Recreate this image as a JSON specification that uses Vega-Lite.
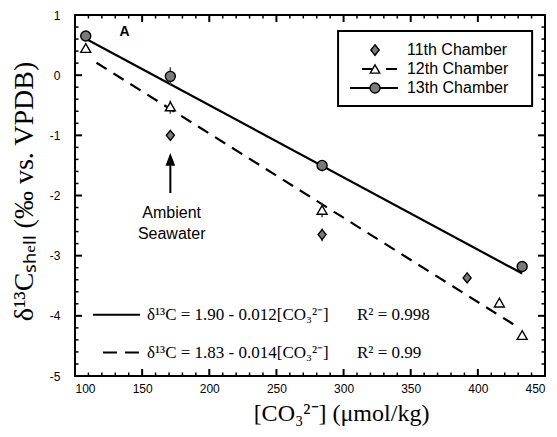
{
  "$schema": "https://vega.github.io/schema/vega-lite/v6.json",
  "width": 470,
  "height": 361,
  "autosize": {"type": "none"},
  "padding": {"left": 75, "top": 15, "right": 12, "bottom": 61},
  "background": "white",
  "data": {"values": [{}]},
  "config": {
    "view": {"stroke": "black", "strokeWidth": 2},
    "font": "Liberation Sans",
    "axis": {
      "grid": false,
      "domain": false,
      "ticks": false,
      "labelColor": "black",
      "labelFont": "Liberation Sans",
      "labelFontSize": 12,
      "titleColor": "black"
    }
  },
  "datasets": {
    "shells": [
      {"chamber": "12th Chamber", "co3": 108, "d13c": 0.45},
      {"chamber": "12th Chamber", "co3": 171, "d13c": -0.52},
      {"chamber": "12th Chamber", "co3": 284, "d13c": -2.24},
      {"chamber": "12th Chamber", "co3": 416, "d13c": -3.78},
      {"chamber": "12th Chamber", "co3": 433, "d13c": -4.32},
      {"chamber": "11th Chamber", "co3": 171, "d13c": -1.0},
      {"chamber": "11th Chamber", "co3": 284, "d13c": -2.65},
      {"chamber": "11th Chamber", "co3": 392, "d13c": -3.37},
      {"chamber": "13th Chamber", "co3": 108, "d13c": 0.65},
      {"chamber": "13th Chamber", "co3": 171, "d13c": -0.02},
      {"chamber": "13th Chamber", "co3": 284, "d13c": -1.5},
      {"chamber": "13th Chamber", "co3": 433, "d13c": -3.18}
    ],
    "spread": [
      {"co3": 171, "lo": -0.17, "hi": 0.13},
      {"co3": 171, "lo": -0.64, "hi": -0.42},
      {"co3": 284, "lo": -2.36, "hi": -2.12},
      {"co3": 284, "lo": -2.76, "hi": -2.55},
      {"co3": 284, "lo": -1.6, "hi": -1.42}
    ],
    "fits": [
      {"fit": "13th", "co3": 108, "d13c": 0.604},
      {"fit": "13th", "co3": 433, "d13c": -3.296},
      {"fit": "12th", "co3": 116, "d13c": 0.206},
      {"fit": "12th", "co3": 431, "d13c": -4.204}
    ],
    "xMajor": [{"v": 100}, {"v": 150}, {"v": 200}, {"v": 250}, {"v": 300}, {"v": 350}, {"v": 400}, {"v": 450}],
    "xMinor": [{"v": 110}, {"v": 120}, {"v": 130}, {"v": 140}, {"v": 160}, {"v": 170}, {"v": 180}, {"v": 190}, {"v": 210}, {"v": 220}, {"v": 230}, {"v": 240}, {"v": 260}, {"v": 270}, {"v": 280}, {"v": 290}, {"v": 310}, {"v": 320}, {"v": 330}, {"v": 340}, {"v": 360}, {"v": 370}, {"v": 380}, {"v": 390}, {"v": 410}, {"v": 420}, {"v": 430}, {"v": 440}],
    "yMajor": [{"v": -5}, {"v": -4}, {"v": -3}, {"v": -2}, {"v": -1}, {"v": 0}, {"v": 1}],
    "yMinor": [{"v": -4.8}, {"v": -4.6}, {"v": -4.4}, {"v": -4.2}, {"v": -3.8}, {"v": -3.6}, {"v": -3.4}, {"v": -3.2}, {"v": -2.8}, {"v": -2.6}, {"v": -2.4}, {"v": -2.2}, {"v": -1.8}, {"v": -1.6}, {"v": -1.4}, {"v": -1.2}, {"v": -0.8}, {"v": -0.6}, {"v": -0.4}, {"v": -0.2}, {"v": 0.2}, {"v": 0.4}, {"v": 0.6}, {"v": 0.8}]
  },
  "layer": [
    {
      "data": {"name": "fits"},
      "transform": [{"filter": "datum.fit === '13th'"}],
      "mark": {"type": "line", "color": "black", "strokeWidth": 2.2},
      "encoding": {
        "x": {
          "field": "co3", "type": "quantitative",
          "scale": {"domain": [100, 450], "nice": false, "zero": false},
          "axis": {
            "orient": "bottom",
            "values": [100, 150, 200, 250, 300, 350, 400, 450],
            "labelPadding": 7,
            "title": "[CO₃²⁻]  (μmol/kg)",
            "titleFont": "Liberation Serif", "titleFontSize": 24, "titleFontWeight": "normal",
            "titleX": 266, "titleY": 37, "titleBaseline": "middle", "titleAlign": "center"
          }
        },
        "y": {
          "field": "d13c", "type": "quantitative",
          "scale": {"domain": [-5, 1], "nice": false, "zero": false},
          "axis": {
            "orient": "left",
            "values": [-5, -4, -3, -2, -1, 0, 1],
            "labelExpr": "datum.value + ''",
            "labelPadding": 15,
            "title": "δ¹³Cₛₕₑₗₗ (‰ vs. VPDB)",
            "titleFont": "Liberation Serif", "titleFontSize": 28, "titleFontWeight": "normal",
            "titleX": -51, "titleY": 176, "titleAngle": -90,
            "titleBaseline": "middle", "titleAlign": "center"
          }
        }
      }
    },
    {
      "data": {"name": "xMajor"},
      "mark": {"type": "tick", "orient": "vertical", "color": "black", "thickness": 2, "size": 14, "clip": true, "opacity": 1},
      "encoding": {
        "x": {"field": "v", "type": "quantitative"},
        "y": {"datum": -5, "type": "quantitative"}
      }
    },
    {
      "data": {"name": "xMajor"},
      "mark": {"type": "tick", "orient": "vertical", "color": "black", "thickness": 2, "size": 14, "clip": true, "opacity": 1},
      "encoding": {
        "x": {"field": "v", "type": "quantitative"},
        "y": {"datum": 1, "type": "quantitative"}
      }
    },
    {
      "data": {"name": "xMinor"},
      "mark": {"type": "tick", "orient": "vertical", "color": "black", "thickness": 1.5, "size": 7, "clip": true, "opacity": 1},
      "encoding": {
        "x": {"field": "v", "type": "quantitative"},
        "y": {"datum": -5, "type": "quantitative"}
      }
    },
    {
      "data": {"name": "xMinor"},
      "mark": {"type": "tick", "orient": "vertical", "color": "black", "thickness": 1.5, "size": 7, "clip": true, "opacity": 1},
      "encoding": {
        "x": {"field": "v", "type": "quantitative"},
        "y": {"datum": 1, "type": "quantitative"}
      }
    },
    {
      "data": {"name": "yMajor"},
      "mark": {"type": "tick", "orient": "horizontal", "color": "black", "thickness": 2, "size": 14, "clip": true, "opacity": 1},
      "encoding": {
        "y": {"field": "v", "type": "quantitative"},
        "x": {"datum": 100, "type": "quantitative"}
      }
    },
    {
      "data": {"name": "yMajor"},
      "mark": {"type": "tick", "orient": "horizontal", "color": "black", "thickness": 2, "size": 14, "clip": true, "opacity": 1},
      "encoding": {
        "y": {"field": "v", "type": "quantitative"},
        "x": {"datum": 450, "type": "quantitative"}
      }
    },
    {
      "data": {"name": "yMinor"},
      "mark": {"type": "tick", "orient": "horizontal", "color": "black", "thickness": 1.5, "size": 7, "clip": true, "opacity": 1},
      "encoding": {
        "y": {"field": "v", "type": "quantitative"},
        "x": {"datum": 100, "type": "quantitative"}
      }
    },
    {
      "data": {"name": "yMinor"},
      "mark": {"type": "tick", "orient": "horizontal", "color": "black", "thickness": 1.5, "size": 7, "clip": true, "opacity": 1},
      "encoding": {
        "y": {"field": "v", "type": "quantitative"},
        "x": {"datum": 450, "type": "quantitative"}
      }
    },
    {
      "data": {"name": "fits"},
      "transform": [{"filter": "datum.fit === '12th'"}],
      "mark": {"type": "line", "color": "black", "strokeWidth": 2.2, "strokeDash": [12, 8]},
      "encoding": {
        "x": {"field": "co3", "type": "quantitative"},
        "y": {"field": "d13c", "type": "quantitative"}
      }
    },
    {
      "data": {"name": "spread"},
      "mark": {"type": "rule", "color": "#444", "strokeWidth": 1.5},
      "encoding": {
        "x": {"field": "co3", "type": "quantitative"},
        "y": {"field": "lo", "type": "quantitative"},
        "y2": {"field": "hi"}
      }
    },
    {
      "data": {"name": "shells"},
      "mark": {"type": "point", "filled": true, "stroke": "black", "strokeWidth": 1.4, "size": 100, "opacity": 1},
      "encoding": {
        "x": {"field": "co3", "type": "quantitative"},
        "y": {"field": "d13c", "type": "quantitative"},
        "shape": {
          "field": "chamber", "type": "nominal",
          "scale": {"domain": ["11th Chamber", "12th Chamber", "13th Chamber"], "range": ["M0,-1L0.8,0L0,1L-0.8,0Z", "triangle-up", "circle"]},
          "legend": null
        },
        "fill": {
          "field": "chamber", "type": "nominal",
          "scale": {"domain": ["11th Chamber", "12th Chamber", "13th Chamber"], "range": ["#7a7a7a", "white", "#7a7a7a"]},
          "legend": null
        }
      }
    },
    {
      "mark": {"type": "rect", "fill": "white", "stroke": "black", "strokeWidth": 2},
      "encoding": {
        "x": {"datum": 295.9, "type": "quantitative"},
        "x2": {"datum": 440.4},
        "y": {"datum": 0.734, "type": "quantitative"},
        "y2": {"datum": -0.512}
      }
    },
    {
      "mark": {"type": "point", "filled": true, "fill": "#7a7a7a", "stroke": "black", "strokeWidth": 1.4, "opacity": 1, "size": 110, "shape": "M0,-1L0.8,0L0,1L-0.8,0Z"},
      "encoding": {
        "x": {"datum": 323.4, "type": "quantitative"},
        "y": {"datum": 0.418, "type": "quantitative"}
      }
    },
    {
      "mark": {"type": "rule", "color": "black", "strokeWidth": 2, "strokeDash": [10, 14, 11]},
      "encoding": {
        "x": {"datum": 313.7, "type": "quantitative"},
        "x2": {"datum": 339.8},
        "y": {"datum": 0.1025, "type": "quantitative"}
      }
    },
    {
      "mark": {"type": "point", "filled": true, "fill": "white", "stroke": "black", "strokeWidth": 1.4, "opacity": 1, "size": 90, "shape": "triangle-up"},
      "encoding": {
        "x": {"datum": 323.4, "type": "quantitative"},
        "y": {"datum": 0.1025, "type": "quantitative"}
      }
    },
    {
      "mark": {"type": "rule", "color": "black", "strokeWidth": 2},
      "encoding": {
        "x": {"datum": 304.8, "type": "quantitative"},
        "x2": {"datum": 340.5},
        "y": {"datum": -0.213, "type": "quantitative"}
      }
    },
    {
      "mark": {"type": "point", "filled": true, "fill": "#7a7a7a", "stroke": "black", "strokeWidth": 1.4, "opacity": 1, "size": 100, "shape": "circle"},
      "encoding": {
        "x": {"datum": 323.4, "type": "quantitative"},
        "y": {"datum": -0.213, "type": "quantitative"}
      }
    },
    {
      "mark": {"type": "text", "text": "11th Chamber", "font": "Liberation Sans", "fontSize": 16, "color": "black", "align": "left", "baseline": "middle"},
      "encoding": {
        "x": {"datum": 347.2, "type": "quantitative"},
        "y": {"datum": 0.418, "type": "quantitative"}
      }
    },
    {
      "mark": {"type": "text", "text": "12th Chamber", "font": "Liberation Sans", "fontSize": 16, "color": "black", "align": "left", "baseline": "middle"},
      "encoding": {
        "x": {"datum": 347.2, "type": "quantitative"},
        "y": {"datum": 0.1025, "type": "quantitative"}
      }
    },
    {
      "mark": {"type": "text", "text": "13th Chamber", "font": "Liberation Sans", "fontSize": 16, "color": "black", "align": "left", "baseline": "middle"},
      "encoding": {
        "x": {"datum": 347.2, "type": "quantitative"},
        "y": {"datum": -0.213, "type": "quantitative"}
      }
    },
    {
      "mark": {"type": "rule", "color": "black", "strokeWidth": 2},
      "encoding": {
        "x": {"datum": 171, "type": "quantitative"},
        "y": {"datum": -1.96, "type": "quantitative"},
        "y2": {"datum": -1.5}
      }
    },
    {
      "mark": {"type": "point", "filled": true, "color": "black", "opacity": 1, "size": 256, "shape": "M0,-1L0.6,0.6L-0.6,0.6Z"},
      "encoding": {
        "x": {"datum": 171, "type": "quantitative"},
        "y": {"datum": -1.425, "type": "quantitative"}
      }
    },
    {
      "mark": {"type": "text", "text": "Ambient", "font": "Liberation Sans", "fontSize": 16, "color": "black", "align": "center", "baseline": "middle"},
      "encoding": {
        "x": {"datum": 172, "type": "quantitative"},
        "y": {"datum": -2.29, "type": "quantitative"}
      }
    },
    {
      "mark": {"type": "text", "text": "Seawater", "font": "Liberation Sans", "fontSize": 16, "color": "black", "align": "center", "baseline": "middle"},
      "encoding": {
        "x": {"datum": 172, "type": "quantitative"},
        "y": {"datum": -2.64, "type": "quantitative"}
      }
    },
    {
      "mark": {"type": "text", "text": "A", "font": "Liberation Sans", "fontSize": 14, "fontWeight": "bold", "color": "black", "align": "center", "baseline": "middle"},
      "encoding": {
        "x": {"datum": 137, "type": "quantitative"},
        "y": {"datum": 0.71, "type": "quantitative"}
      }
    },
    {
      "mark": {"type": "rule", "color": "black", "strokeWidth": 2},
      "encoding": {
        "x": {"datum": 113.4, "type": "quantitative"},
        "x2": {"datum": 148.4},
        "y": {"datum": -3.98, "type": "quantitative"}
      }
    },
    {
      "mark": {"type": "rule", "color": "black", "strokeWidth": 2, "strokeDash": [14, 8]},
      "encoding": {
        "x": {"datum": 120.8, "type": "quantitative"},
        "x2": {"datum": 148.4},
        "y": {"datum": -4.61, "type": "quantitative"}
      }
    },
    {
      "mark": {"type": "text", "text": "δ¹³C = 1.90 - 0.012[CO₃²⁻]", "font": "Liberation Serif", "fontSize": 17, "color": "black", "align": "left", "baseline": "middle"},
      "encoding": {
        "x": {"datum": 153.6, "type": "quantitative"},
        "y": {"datum": -3.98, "type": "quantitative"}
      }
    },
    {
      "mark": {"type": "text", "text": "δ¹³C = 1.83 - 0.014[CO₃²⁻]", "font": "Liberation Serif", "fontSize": 17, "color": "black", "align": "left", "baseline": "middle"},
      "encoding": {
        "x": {"datum": 153.6, "type": "quantitative"},
        "y": {"datum": -4.61, "type": "quantitative"}
      }
    },
    {
      "mark": {"type": "text", "text": "R² = 0.998", "font": "Liberation Serif", "fontSize": 17, "color": "black", "align": "left", "baseline": "middle"},
      "encoding": {
        "x": {"datum": 310, "type": "quantitative"},
        "y": {"datum": -3.98, "type": "quantitative"}
      }
    },
    {
      "mark": {"type": "text", "text": "R² = 0.99", "font": "Liberation Serif", "fontSize": 17, "color": "black", "align": "left", "baseline": "middle"},
      "encoding": {
        "x": {"datum": 310, "type": "quantitative"},
        "y": {"datum": -4.61, "type": "quantitative"}
      }
    }
  ]
}
